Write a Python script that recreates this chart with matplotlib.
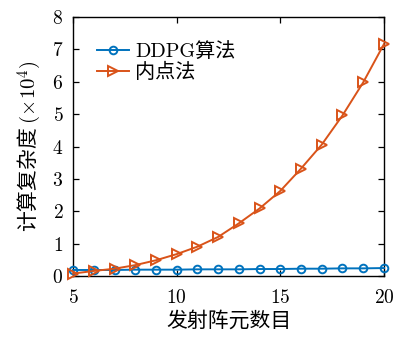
import matplotlib
matplotlib.use("Agg")
import matplotlib.pyplot as plt

plt.rcParams['font.family'] = ['cmr10', 'Noto Sans CJK SC']
plt.rcParams['mathtext.fontset'] = 'cm'
plt.rcParams['axes.formatter.use_mathtext'] = True

# number of transmit array elements
elements = list(range(5, 21))
# computational complexity (x10^4)
ddpg = [0.19, 0.19, 0.19, 0.20, 0.20, 0.20, 0.21, 0.21,
        0.21, 0.22, 0.22, 0.23, 0.23, 0.24, 0.24, 0.25]
interior_point = [0.08, 0.16, 0.23, 0.34, 0.49, 0.68, 0.91, 1.21,
                  1.63, 2.09, 2.63, 3.32, 4.06, 4.96, 5.98, 7.16]
xticks = [5, 10, 15, 20]
yticks = list(range(0, 9))

blue = '#0072BD'
orange = '#D95319'

fig = plt.figure(figsize=(3.95, 3.38), dpi=100)
ax = fig.add_axes([0.185, 0.183, 0.787, 0.767])

ax.plot(elements, ddpg, color=blue, lw=1.4, marker='o', ms=5.5,
        mfc='none', mew=1.4, label='DDPG算法', clip_on=False, zorder=3)
ax.plot(elements, interior_point, color=orange, lw=1.4, marker='>', ms=6.5,
        mfc='none', mew=1.4, label='内点法', clip_on=False, zorder=3)

ax.set_xlim(5, 20)
ax.set_ylim(0, 8)
ax.set_xticks(xticks)
ax.set_yticks(yticks)
ax.tick_params(direction='in', top=True, right=True, length=4,
               width=0.9, labelsize=14)
ax.tick_params(axis='x', pad=9)
ax.tick_params(axis='y', pad=7)
for s in ax.spines.values():
    s.set_linewidth(1.0)

ax.set_xlabel('发射阵元数目', fontsize=15, labelpad=3)
ax.set_ylabel('计算复杂度 $(\\times 10^4)$', fontsize=15,
              family='Noto Sans CJK SC', labelpad=6)

ax.legend(loc='upper left', bbox_to_anchor=(0.05, 0.935), frameon=False,
          fontsize=14.5, handlelength=1.6, handletextpad=0.3,
          borderaxespad=0, labelspacing=0.1)

fig.savefig('out.png', dpi=100)
